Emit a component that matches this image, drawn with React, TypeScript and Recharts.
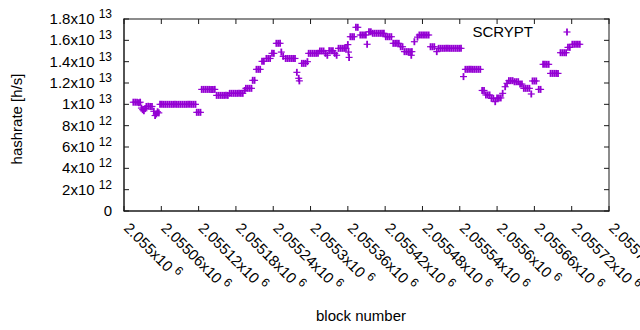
import { Customized, Scatter, ScatterChart, XAxis, YAxis } from "recharts";

const BLOCK_BASE = 2055000;
const HASH_UNIT = 1e12;
const SERIES_NAME = "SCRYPT";
const COLOR = "#9400d3";
const INK = "#1a1a1a";
const FONT = "'Liberation Sans', Arial, sans-serif";
const X_DOMAIN: [number, number] = [2055000, 2055780];
const Y_DOMAIN: [number, number] = [0, 1.8e13];

// chart layout (plot box = 124..609 x 19..211)
const WIDTH = 640;
const HEIGHT = 330;
const MARGIN = { top: 19, right: 31, bottom: 0, left: 0 };
const Y_AXIS_WIDTH = 124;
const X_AXIS_HEIGHT = 119;
const PLOT_LEFT = MARGIN.left + Y_AXIS_WIDTH;
const PLOT_RIGHT = WIDTH - MARGIN.right;
const PLOT_TOP = MARGIN.top;
const PLOT_BOTTOM = HEIGHT - MARGIN.bottom - X_AXIS_HEIGHT;
const TICK_LEN = 5;

// [block offset from 2.055x10^6, hashrate in 10^12 h/s]
const earlyPoints: [number, number][] = [
  [15, 10.2], [18, 10.2], [21, 10.2], [24, 10.15], [26, 10.2],
  [28, 9.65], [30, 9.5], [32, 9.4], [34, 9.6],
  [36, 9.8], [39, 9.82], [42, 9.8], [45, 9.8],
  [48, 9.35], [50, 8.95], [52, 9.1], [54, 9.3], [56, 9.2],
  [58, 10], [61, 10], [64, 10], [67, 10], [70, 10], [73, 10], [76, 10],
  [79, 10], [82, 10], [85, 10], [88, 10], [91, 10], [94, 10], [97, 10],
  [100, 10], [103, 10], [106, 10], [109, 10], [112, 10], [115, 10],
  [117, 9.25], [120, 9.25], [123, 9.25],
  [125, 11.4], [128, 11.4], [131, 11.4], [134, 11.4], [137, 11.4],
  [140, 11.4], [143, 11.4], [146, 11.4],
  [149, 10.84], [152, 10.84], [155, 10.84], [158, 10.84], [161, 10.84],
  [164, 10.84], [167, 10.84],
  [170, 11.03], [173, 11.03], [176, 11.03], [179, 11.03], [182, 11.03],
  [185, 11.03], [188, 11.03], [191, 11.03], [194, 11.3],
];

const risePoints: [number, number][] = [
  [196, 11.5], [199, 11.5], [202, 11.5], [205, 11.5],
  [207, 12.25], [210, 12.25],
  [213, 13.28], [216, 13.28], [219, 13.28],
  [222, 14.03], [225, 14.03],
  [229, 14.3], [232, 14.3], [235, 14.3],
  [238, 14.78], [241, 14.78],
  [245, 15.72], [248, 15.72], [251, 15.72],
  [253, 14.9], [256, 14.5],
  [260, 14.3], [263, 14.3], [266, 14.3], [269, 14.3], [272, 14.3], [275, 14.3],
  [278, 13.0], [281, 12.44], [282, 12.2],
  [286, 13.84], [289, 13.84], [292, 13.84], [295, 14.0],
  [297, 14.78], [300, 14.78], [303, 14.78], [306, 14.78], [309, 14.78], [312, 14.78],
  [315, 15.0], [318, 15.0], [321, 15.0],
  [324, 14.78], [327, 14.6],
  [330, 15.03], [333, 15.03], [336, 15.03],
  [339, 14.78], [342, 14.6],
  [345, 15.25], [348, 15.25], [351, 15.25], [354, 15.25], [357, 15.25],
  [360, 15.6], [361, 14.9], [362, 14.4],
];

const peakPoints: [number, number][] = [
  [364, 16.34], [367, 16.34], [370, 16.34],
  [373, 17.22], [376, 17.22],
  [380, 16.5], [383, 16.5], [386, 16.5], [389, 16.5],
  [391, 15.63],
  [394, 16.8], [397, 16.8], [400, 16.66], [403, 16.66], [406, 16.66],
  [409, 16.66], [412, 16.66], [415, 16.66], [418, 16.66],
  [421, 16.34], [424, 16.34], [427, 16.34], [430, 16.34],
  [433, 15.72], [436, 15.72], [439, 15.72], [442, 15.72],
  [445, 15.4], [448, 15.4],
  [451, 14.94], [454, 14.94], [457, 14.94], [460, 14.94], [462, 14.6], [463, 14.94],
  [467, 15.87],
  [472, 16.3], [475, 16.5], [478, 16.5], [481, 16.5], [484, 16.5], [487, 16.5], [490, 16.5],
  [493, 15.4], [496, 15.4], [499, 15.4],
  [503, 14.94],
  [506, 15.25], [509, 15.25], [512, 15.25], [515, 15.25], [518, 15.25],
  [521, 15.25], [524, 15.25], [527, 15.25], [530, 15.25], [533, 15.25],
  [536, 15.25], [539, 15.25], [542, 15.25],
];

const dipPoints: [number, number][] = [
  [546, 12.6],
  [549, 13.28], [552, 13.28], [555, 13.28], [558, 13.28], [561, 13.28],
  [564, 13.28], [567, 13.28], [570, 13.28], [573, 13.28],
  [576, 11.3], [579, 11.3],
  [582, 10.88], [585, 10.88], [588, 10.88],
  [591, 10.56], [594, 10.56], [597, 10.25],
  [600, 10.6], [603, 10.6], [606, 10.6],
  [609, 11.03], [613, 11.65], [616, 11.97],
  [619, 12.22], [622, 12.22], [625, 12.22],
  [628, 12.12], [631, 12.12], [634, 12.12],
  [637, 11.9], [640, 11.9],
  [643, 11.5], [646, 11.5], [649, 11.5], [652, 11.5], [655, 10.97],
  [657, 12.19], [660, 12.19], [663, 12.19],
  [667, 11.4], [670, 11.4],
  [674, 13.75], [677, 13.75], [680, 13.75], [683, 13.75],
  [686, 12.9], [689, 12.9], [692, 12.9], [695, 12.9], [698, 12.9],
  [702, 14.84], [705, 14.84], [708, 14.84], [711, 14.84],
  [714, 15.34], [717, 15.34],
  [721, 15.63], [724, 15.63], [727, 15.63], [730, 15.63], [733, 15.63],
];

const xTicks = [
  2055000, 2055060, 2055120, 2055180, 2055240, 2055300, 2055360,
  2055420, 2055480, 2055540, 2055600, 2055660, 2055720, 2055780,
];
const xTickLabels = [
  "2.055", "2.05506", "2.05512", "2.05518", "2.05524", "2.0553", "2.05536",
  "2.05542", "2.05548", "2.05554", "2.0556", "2.05566", "2.05572", "2.05578",
];
const yTicks = [0, 2e12, 4e12, 6e12, 8e12, 1e13, 1.2e13, 1.4e13, 1.6e13, 1.8e13];
const yTickMantissas = ["0", "2", "4", "6", "8", "1", "1.2", "1.4", "1.6", "1.8"];
const yTickExponents = ["", "12", "12", "12", "12", "13", "13", "13", "13", "13"];

const data = [...earlyPoints, ...risePoints, ...peakPoints, ...dipPoints].map(
  ([offset, value]) => ({ block: BLOCK_BASE + offset, hashrate: value * HASH_UNIT })
);

function Cross({ cx, cy }: { cx: number; cy: number }) {
  return (
    <g stroke={COLOR} fill="none">
      <path d={`M${cx - 3.5},${cy}H${cx + 3.5}`} strokeWidth={1.2} />
      <path d={`M${cx},${cy - 3.5}V${cy + 3.5}`} strokeWidth={1.8} />
    </g>
  );
}

function CrossShape(props: any) {
  return <Cross cx={props.cx} cy={props.cy} />;
}

// 1px rule drawn as a filled rect
function Rule({ x, y, w, h }: { x: number; y: number; w: number; h: number }) {
  return <rect x={x} y={y} width={w} height={h} fill={INK} stroke="none" />;
}

// x tick: inward marks on bottom and (mirrored) top border, rotated label
function BottomTick(props: any) {
  const { x, y, index } = props;
  return (
    <g>
      <Rule x={x - 0.5} y={y - TICK_LEN} w={1} h={TICK_LEN} />
      <Rule x={x - 0.5} y={PLOT_TOP} w={1} h={TICK_LEN} />
      <text
        transform={`translate(${x - 1},${y + 18}) rotate(45)`}
        fontFamily={FONT}
        fontSize={15}
        fill="#000"
      >
        {xTickLabels[index]}x10
        <tspan dx={4} dy={-6} fontSize={12}>6</tspan>
      </text>
    </g>
  );
}

// y tick: inward marks on left and (mirrored) right border, label with exponent
function LeftTick(props: any) {
  const { x, y, index } = props;
  const exp = yTickExponents[index];
  return (
    <g>
      <Rule x={x} y={y - 0.5} w={TICK_LEN} h={1} />
      <Rule x={PLOT_RIGHT - TICK_LEN} y={y - 0.5} w={TICK_LEN} h={1} />
      <text x={x - 12} y={y + 5} textAnchor="end" fontFamily={FONT} fontSize={15} fill="#000">
        {exp ? `${yTickMantissas[index]}x10` : yTickMantissas[index]}
        {exp ? (
          <tspan dx={4} dy={-6} fontSize={12}>{exp}</tspan>
        ) : null}
      </text>
    </g>
  );
}

function Labels() {
  const w = PLOT_RIGHT - PLOT_LEFT;
  const h = PLOT_BOTTOM - PLOT_TOP;
  return (
    <g fontFamily={FONT} fontSize={15} fill="#000">
      <Rule x={PLOT_LEFT - 0.5} y={PLOT_TOP - 0.5} w={w + 1} h={1} />
      <Rule x={PLOT_LEFT - 0.5} y={PLOT_BOTTOM - 0.5} w={w + 1} h={1} />
      <Rule x={PLOT_LEFT - 0.5} y={PLOT_TOP - 0.5} w={1} h={h + 1} />
      <Rule x={PLOT_RIGHT - 0.5} y={PLOT_TOP - 0.5} w={1} h={h + 1} />
      <text transform="translate(22,119) rotate(-90)" textAnchor="middle">
        hashrate [h/s]
      </text>
      <text x={361} y={321} textAnchor="middle">
        block number
      </text>
      <text x={533} y={37} textAnchor="end">
        {SERIES_NAME}
      </text>
      <Cross cx={567} cy={32} />
    </g>
  );
}

export default function App() {
  return (
    <div style={{ position: "absolute", left: 0, top: 0, width: WIDTH, height: HEIGHT, background: "#fff" }}>
      <ScatterChart width={WIDTH} height={HEIGHT} margin={MARGIN}>
        <XAxis
          dataKey="block"
          type="number"
          domain={X_DOMAIN}
          ticks={xTicks}
          allowDataOverflow
          height={X_AXIS_HEIGHT}
          tickSize={0}
          tickMargin={0}
          tickLine={false}
          axisLine={{ stroke: INK }}
          tick={<BottomTick />}
          interval={0}
        />
        <YAxis
          dataKey="hashrate"
          type="number"
          domain={Y_DOMAIN}
          ticks={yTicks}
          allowDataOverflow
          width={Y_AXIS_WIDTH}
          tickSize={0}
          tickMargin={0}
          tickLine={false}
          axisLine={{ stroke: INK }}
          tick={<LeftTick />}
          interval={0}
        />
        <Scatter
          name={SERIES_NAME}
          data={data}
          shape={<CrossShape />}
          isAnimationActive={false}
        />
        <Customized component={<Labels />} />
      </ScatterChart>
    </div>
  );
}
